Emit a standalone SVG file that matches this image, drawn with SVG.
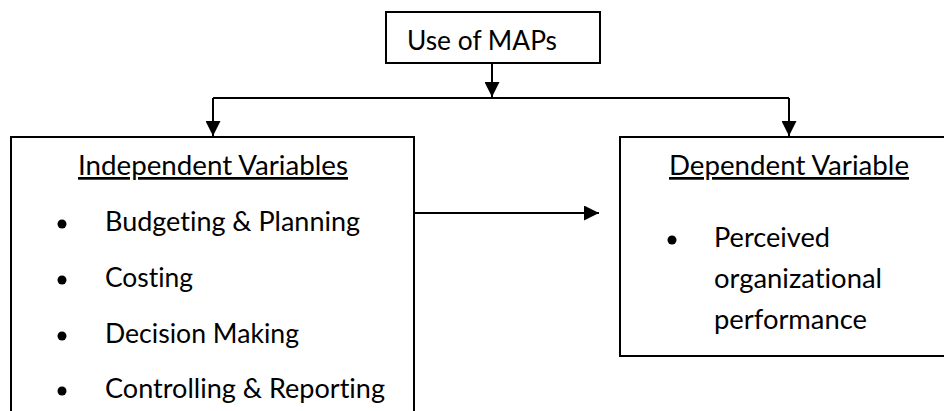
<svg xmlns="http://www.w3.org/2000/svg" width="944" height="411" viewBox="0 0 944 411">
  <style>
    .box { fill: #ffffff; stroke: #000000; stroke-width: 2; }
    .t { font-family: Lato, "Open Sans", "Liberation Sans", sans-serif; font-size: 27px; fill: #000000; font-variant-ligatures: none; font-feature-settings: "liga" 0, "clig" 0; }
    .u { text-decoration: underline; }
    .line { fill: none; stroke: #000000; stroke-width: 2; }
    .dot { fill: #000000; }
  </style>
  <defs>
    <marker id="arrow" markerUnits="userSpaceOnUse" markerWidth="15" markerHeight="15" refX="15" refY="7.5" orient="auto">
      <path d="M0,0 L15,7.5 L0,15 Z" fill="#000000"/>
    </marker>
  </defs>
  <rect width="944" height="411" fill="#ffffff"/>

  <g id="connectors">
    <path class="line" d="M492,63 V97" marker-end="url(#arrow)"/>
    <path class="line" d="M213,98 H789"/>
    <path class="line" d="M213,98 V136" marker-end="url(#arrow)"/>
    <path class="line" d="M789,98 V136" marker-end="url(#arrow)"/>
    <path class="line" d="M414,213 H599" marker-end="url(#arrow)"/>
  </g>

  <g id="use-of-maps">
    <rect class="box" x="386" y="12" width="214" height="51"/>
    <text class="t" x="407" y="50" textLength="150" lengthAdjust="spacingAndGlyphs">Use of MAPs</text>
  </g>

  <g id="independent-variables">
    <rect class="box" x="11" y="137" width="403" height="300"/>
    <text class="t u" x="78" y="175" textLength="270" lengthAdjust="spacingAndGlyphs">Independent Variables</text>
    <circle class="dot" cx="62" cy="224" r="4.5"/>
    <text class="t" x="105" y="231" textLength="255" lengthAdjust="spacingAndGlyphs">Budgeting &amp; Planning</text>
    <circle class="dot" cx="62" cy="280" r="4.5"/>
    <text class="t" x="105" y="287" textLength="88" lengthAdjust="spacingAndGlyphs">Costing</text>
    <circle class="dot" cx="62" cy="336" r="4.5"/>
    <text class="t" x="105" y="343" textLength="194" lengthAdjust="spacingAndGlyphs">Decision Making</text>
    <circle class="dot" cx="62" cy="391" r="4.5"/>
    <text class="t" x="105" y="398" textLength="280" lengthAdjust="spacingAndGlyphs">Controlling &amp; Reporting</text>
  </g>

  <g id="dependent-variable">
    <rect class="box" x="620" y="137" width="340" height="219"/>
    <text class="t u" x="669" y="175" textLength="240" lengthAdjust="spacingAndGlyphs">Dependent Variable</text>
    <circle class="dot" cx="672" cy="240" r="4.5"/>
    <text class="t" x="714" y="247" textLength="116" lengthAdjust="spacingAndGlyphs">Perceived</text>
    <text class="t" x="714" y="288" textLength="168" lengthAdjust="spacingAndGlyphs">organizational</text>
    <text class="t" x="714" y="329" textLength="153" lengthAdjust="spacingAndGlyphs">performance</text>
  </g>
</svg>
